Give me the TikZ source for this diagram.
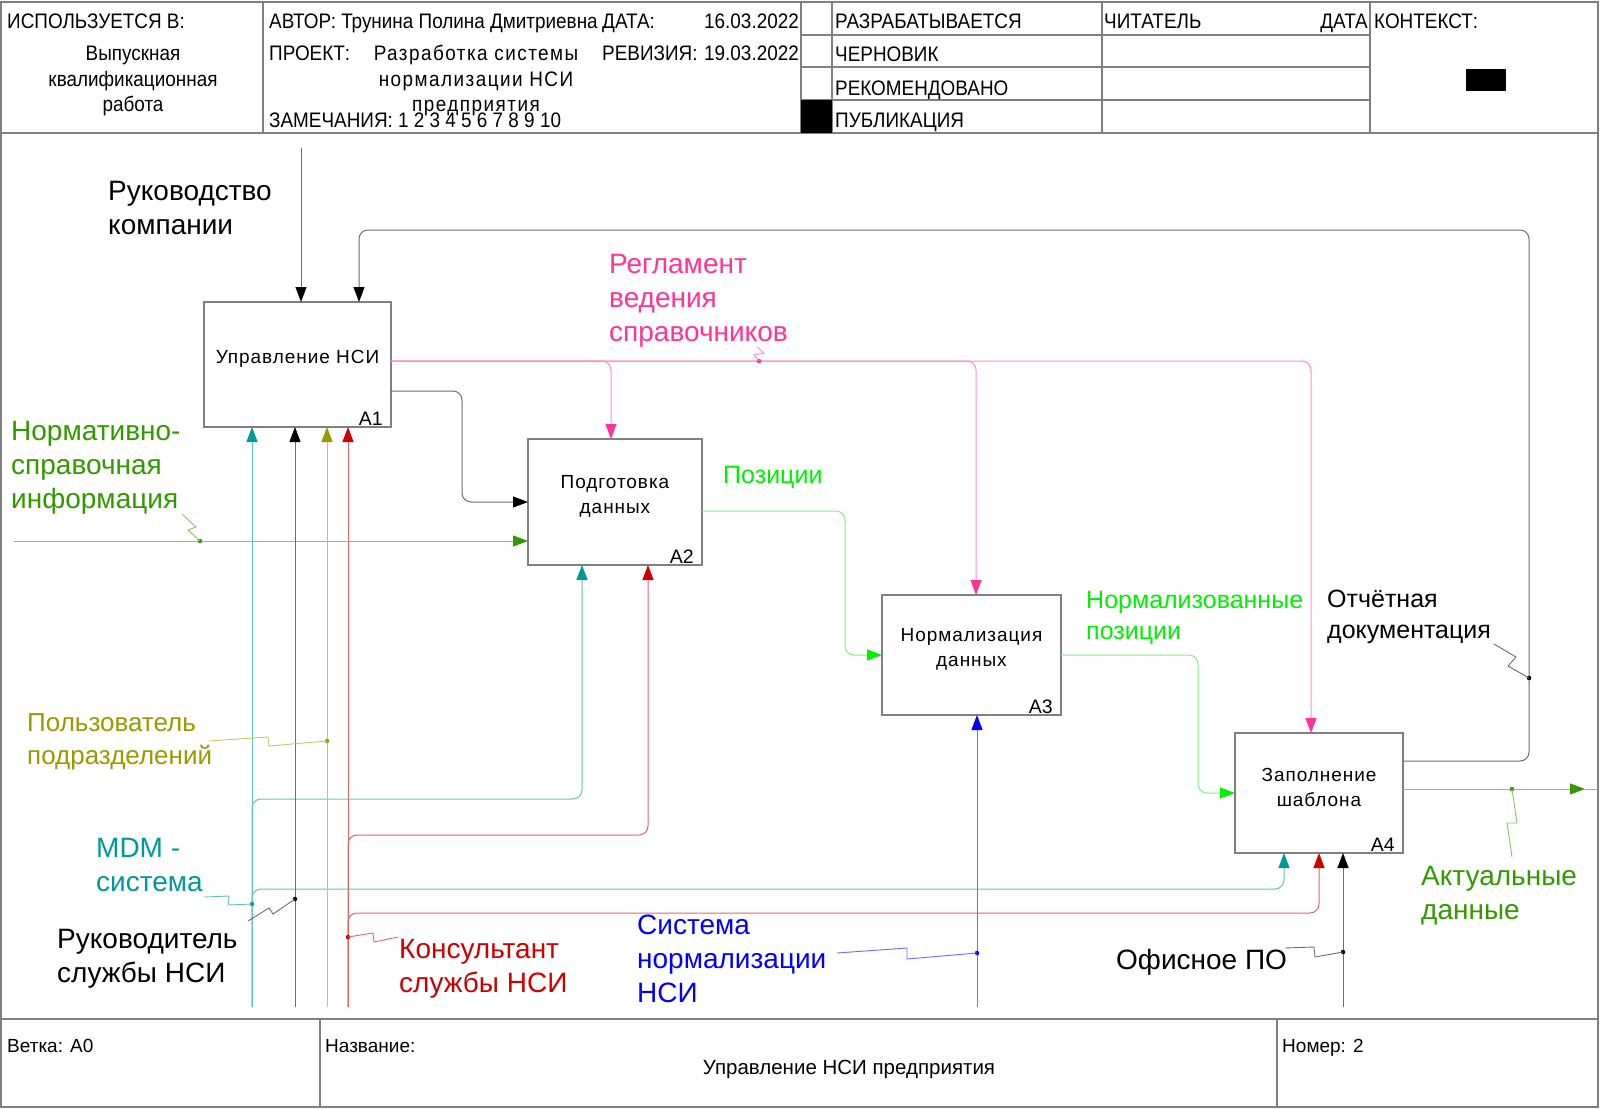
\documentclass[tikz,border=0pt]{standalone}
\usepackage{fontspec}
\setmainfont{Liberation Sans}
\newfontfamily\bfont[LetterSpace=5]{Liberation Sans}
\newfontfamily\hfont[FakeStretch=0.9]{Liberation Sans}
\newfontfamily\pfont[FakeStretch=0.9,LetterSpace=7]{Liberation Sans}
\usetikzlibrary{arrows.meta,calc}
\newcommand{\mlines}[1]{\vtop{\halign{##\hfil\cr#1\crcr}}}
\newcommand{\mlinesc}[1]{\vtop{\halign{\hfil##\hfil\cr#1\crcr}}}
\definecolor{frm}{HTML}{808080}
\definecolor{kl}{HTML}{6E6E6E}
\definecolor{pk}{HTML}{FF3399}\definecolor{pkl}{HTML}{FF8CC6}
\definecolor{gr}{HTML}{00F000}\definecolor{grl}{HTML}{80F080}
\definecolor{dg}{HTML}{339900}\definecolor{dgl}{HTML}{88C466}
\definecolor{tl}{HTML}{009999}\definecolor{tll}{HTML}{66C2C2}
\definecolor{ol}{HTML}{999900}\definecolor{oll}{HTML}{C8C860}
\definecolor{rd}{HTML}{CC0000}\definecolor{rdl}{HTML}{E06666}
\definecolor{bl}{HTML}{0000FF}\definecolor{bll}{HTML}{6B6BFF}
\tikzset{
  frameline/.style={draw=frm, line width=1.4pt},
  box/.style={draw=frm, line width=1.3pt, fill=white, inner sep=0pt, outer sep=0pt},
  btxt/.style={inner sep=0pt, align=center, font=\bfont\fontsize{19}{25}\selectfont},
  bnum/.style={inner sep=0pt, anchor=base east, font=\fontsize{19.5}{19.5}\selectfont},
  hd/.style={inner sep=0pt, anchor=base west, font=\hfont\fontsize{21}{25.5}\selectfont},
  ft/.style={inner sep=0pt, anchor=base west, font=\fontsize{19}{26}\selectfont},
  lab/.style={inner sep=0pt, anchor=base west, font=\fontsize{28}{34}\selectfont},
  slab/.style={inner sep=0pt, anchor=base west, font=\fontsize{25}{31.5}\selectfont},
  conn/.style={line width=1pt, rounded corners=9pt},
  tip/.style={-{Triangle[length=15pt,width=11pt,color=#1]}},
  kA/.style={conn, draw=kl, tip=black},
  pkA/.style={conn, draw=pkl, tip=pk},
  gA/.style={conn, draw=grl, tip=gr},
  dgA/.style={conn, draw=dgl, tip=dg},
  tA/.style={conn, draw=tll, tip=tl},
  oA/.style={conn, draw=oll, tip=ol},
  rA/.style={conn, draw=rdl, tip=rd},
  bA/.style={conn, draw=bll, tip=bl},
  sq/.style={line width=0.9pt, draw=#1},
  pdot/.style={circle, fill=#1, inner sep=0pt, minimum size=4.5pt},
}
\begin{document}
\begin{tikzpicture}[x=1pt,y=-1pt]
\useasboundingbox (0,0) rectangle (1600,1108);
\fill[white] (0,0) rectangle (1600,1108);
% frame and header
\draw[frameline] (1,2) rectangle (1598,1107);
\draw[frameline] (1,133) -- (1598,133);
\draw[frameline] (1,1019) -- (1598,1019);
\draw[frameline] (263,2) -- (263,133);
\draw[frameline] (801,2) -- (801,133);
\draw[frameline] (832,2) -- (832,133);
\draw[frameline] (1102,2) -- (1102,133);
\draw[frameline] (1370,2) -- (1370,133);
\draw[frameline] (801,35) -- (1370,35);
\draw[frameline] (801,67) -- (1370,67);
\draw[frameline] (801,100) -- (1370,100);
\fill[black] (801,100) rectangle (832,133);
\fill[black] (1466,69) rectangle (1506,91);
\draw[frameline] (320,1019) -- (320,1107);
\draw[frameline] (1277,1019) -- (1277,1107);
\node[hd] (h1) at (7,29) {ИСПОЛЬЗУЕТСЯ В:};
\node[hd, anchor=base] (h2) at (133,61) {\mlinesc{Выпускная\cr квалификационная\cr работа}};
\node[hd] (h3) at (269,29) {АВТОР: Трунина Полина Дмитриевна};
\node[hd] (h4) at (602,29) {ДАТА:};
\node[hd, anchor=base east] (h5) at (799,29) {16.03.2022};
\node[hd] (h6) at (269,61) {ПРОЕКТ:};
\node[hd, font=\pfont\fontsize{21}{25.5}\selectfont, anchor=base] (h7) at (476,61) {\mlinesc{Разработка системы\cr нормализации НСИ\cr предприятия}};
\node[hd] (h8) at (602,61) {РЕВИЗИЯ:};
\node[hd, anchor=base east] (h9) at (799,61) {19.03.2022};
\node[hd] (h10) at (269,127) {ЗАМЕЧАНИЯ: 1 2 3 4 5 6 7 8 9 10};
\node[hd] (h11) at (835,29) {РАЗРАБАТЫВАЕТСЯ};
\node[hd] (h12) at (835,62) {ЧЕРНОВИК};
\node[hd] (h13) at (835,95) {РЕКОМЕНДОВАНО};
\node[hd] (h14) at (835,127) {ПУБЛИКАЦИЯ};
\node[hd] (h15) at (1104,29) {ЧИТАТЕЛЬ};
\node[hd, anchor=base east] (h16) at (1368,29) {ДАТА};
\node[hd] (h17) at (1374,29) {КОНТЕКСТ:};
% footer
\node[ft] (f1) at (7,1052) {Ветка: A0};
\node[ft] (f2) at (325,1052) {Название:};
\node[ft] (f3) at (1282,1052) {Номер: 2};
\node[ft, anchor=base, font=\fontsize{20.5}{26}\selectfont] (f4) at (849,1074) {Управление НСИ предприятия};
% boxes
\node[box, minimum width=187pt, minimum height=125pt] (A1) at (297.5,364.5) {};
\node[box, minimum width=174pt, minimum height=126pt] (A2) at (615,502) {};
\node[box, minimum width=179pt, minimum height=120pt] (A3) at (971.5,655) {};
\node[box, minimum width=168pt, minimum height=120pt] (A4) at (1319,793) {};
\node[btxt] (t1) at ([yshift=6pt]A1.center) {Управление НСИ};
\node[btxt] (t2) at ([yshift=6pt]A2.center) {Подготовка\\данных};
\node[btxt] (t3) at ([yshift=6pt]A3.center) {Нормализация\\данных};
\node[btxt] (t4) at ([yshift=6pt]A4.center) {Заполнение\\шаблона};
\node[bnum] (n1) at ([xshift=-8pt,yshift=2pt]A1.south east) {A1};
\node[bnum] (n2) at ([xshift=-8pt,yshift=2pt]A2.south east) {A2};
\node[bnum] (n3) at ([xshift=-8pt,yshift=2pt]A3.south east) {A3};
\node[bnum] (n4) at ([xshift=-8pt,yshift=2pt]A4.south east) {A4};
% connector end coordinates
\coordinate (rukTop) at (301,148);
\coordinate (nsiIn) at (14,541);
\coordinate (actOut) at (1585,789);
\coordinate (edgeR) at (1598,789);
\coordinate (mdmS) at (252,1007);
\coordinate (rkvS) at (295,1007);
\coordinate (polS) at (327,1007);
\coordinate (konS) at (348,1007);
\coordinate (sysS) at (977,1007);
\coordinate (ofS) at (1343,1007);
% controls
\draw[kA] (rukTop) -- (rukTop |- A1.north);
\draw[kA] (A4.east |- 0,761) -| (1529,230) -| (359,0 |- A1.north);
\draw[pkA] (A1.east |- 0,361) -| (611,0 |- A2.north);
\draw[pkA] (A1.east |- 0,361) -| (976,0 |- A3.north);
\draw[pkA] (A1.east |- 0,361) -| (1311,0 |- A4.north);
% flows
\draw[kA] (A1.east |- 0,391) -| (462,502) -- (A2.west |- 0,502);
\draw[dgA] (nsiIn) -- (A2.west |- nsiIn);
\draw[gA] (A2.east |- 0,511) -| (845,655) -- (A3.west |- 0,655);
\draw[gA] (A3.east |- 0,655) -| (1198,793) -- (A4.west);
\draw[dgA] (A4.east |- actOut) -- (actOut);
\draw[conn, draw=dgl] (actOut) -- (edgeR);
% mechanisms
\draw[tA] (mdmS) -- (mdmS |- A1.south);
\draw[tA] (mdmS) |- (582,799) -- (582,0 |- A2.south);
\draw[tA] (mdmS) |- (1284,889) -- (1284,0 |- A4.south);
\draw[kA] (rkvS) -- (rkvS |- A1.south);
\draw[oA] (polS) -- (polS |- A1.south);
\draw[rA] (konS) -- (konS |- A1.south);
\draw[rA] (konS) |- (648,835) -- (648,0 |- A2.south);
\draw[rA] (konS) |- (1319,913) -- (1319,0 |- A4.south);
\draw[bA] (sysS) -- (sysS |- A3.south);
\draw[kA] (ofS) -- (ofS |- A4.south);
% labels
\node[lab] (lRuk) at (108,200) {\mlines{Руководство\cr компании}};
\node[lab, text=dg] (lNsi) at (11,440) {\mlines{Нормативно-\cr справочная\cr информация}};
\node[lab, text=pk] (lReg) at (609,273) {\mlines{Регламент\cr ведения\cr справочников}};
\node[slab, text=gr] (lPos) at (723,483) {Позиции};
\node[slab, text=gr] (lNorm) at (1086,608) {\mlines{Нормализованные\cr позиции}};
\node[slab] (lOtch) at (1327,607) {\mlines{Отчётная\cr документация}};
\node[lab, text=dg] (lAkt) at (1421,885) {\mlines{Актуальные\cr данные}};
\node[lab, text=ol, font=\fontsize{26}{33}\selectfont] (lPol) at (27,731) {\mlines{Пользователь\cr подразделений}};
\node[lab, text=tl] (lMdm) at (96,857) {\mlines{MDM -\cr система}};
\node[lab] (lRkv) at (57,948) {\mlines{Руководитель\cr службы НСИ}};
\node[lab, text=rd] (lKon) at (399,958) {\mlines{Консультант\cr службы НСИ}};
\node[lab, text=bl] (lSys) at (637,934) {\mlines{Система\cr нормализации\cr НСИ}};
\node[lab] (lOf) at (1116,969) {Офисное ПО};
% dots and squiggles
\node[pdot=dg] (dNsi) at (200,541) {};
\draw[sq=dgl] (182,514) -- (196,527) -- (188,530) -- (dNsi.center);
\node[pdot=pk] (dReg) at (759,361) {};
\draw[sq=pkl] (757,347) -- (764,353) -- (754,355) -- (dReg.center);
\node[pdot=black] (dOtch) at (1529,678) {};
\draw[sq=kl] (1494,644) -- (1516,657) -- (1508,666) -- (dOtch.center);
\node[pdot=dg] (dAkt) at (1512,789) {};
\draw[sq=dgl] (1512,857) -- (1507,823) -- (1517,823) -- (dAkt.center);
\node[pdot=ol] (dPol) at (327,741) {};
\draw[sq=oll] (209,741) -- (268,737) -- (269,746) -- (dPol.center);
\node[pdot=tl] (dMdm) at (252,904) {};
\draw[sq=tll] (204,897) -- (229,896) -- (228,905) -- (dMdm.center);
\node[pdot=black] (dRkv) at (295,899) {};
\draw[sq=kl] (248,921) -- (269,908) -- (273,914) -- (dRkv.center);
\node[pdot=rd] (dKon) at (348,937) {};
\draw[sq=rdl] (398,937) -- (374,942) -- (373,933) -- (dKon.center);
\node[pdot=bl] (dSys) at (977,953) {};
\draw[sq=bll] (837,953) -- (907,948) -- (907,959) -- (dSys.center);
\node[pdot=black] (dOf) at (1343,952) {};
\draw[sq=kl] (1285,948) -- (1314,947) -- (1315,957) -- (dOf.center);
\end{tikzpicture}
\end{document}
